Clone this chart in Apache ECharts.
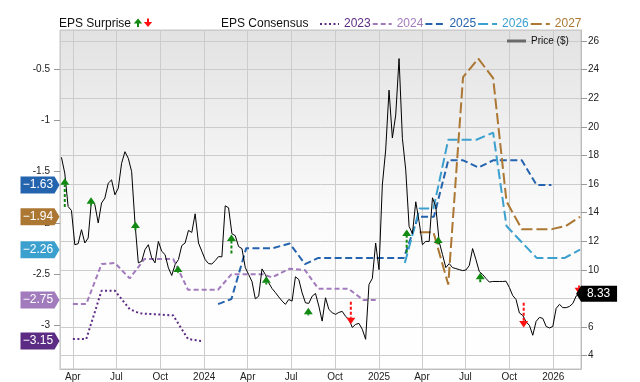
<!DOCTYPE html>
<html><head><meta charset="utf-8">
<script src="https://cdn.jsdelivr.net/npm/echarts@6/dist/echarts.min.js"></script>
<style>html,body{margin:0;padding:0;background:#fff}#c{width:640px;height:382px}</style>
</head><body><div id="c"></div>
<script>
// ---- data ----
const xMin = '2023-03-05';
const xMax = '2026-02-28';
const epsMin = -3.422, epsMax = -0.121;
const priceMin = 3.073, priceMax = 26.767;

const priceStart = '2023-03-08';
const priceStepDays = 7;
const priceValues = [17.87,16.76,14.43,14.15,11.76,11.83,12.81,11.88,12.23,14.9,
14.55,13.28,14.67,15.02,16.06,16.29,15.25,15.71,17.45,18.26,
17.8,16.87,13.28,10.49,10.6,11.42,11.76,10.84,10.49,11.99,
11.3,11.07,10.14,9.61,10.37,10.72,11.7,11.88,12.76,12.62,
13.92,11.88,11.3,10.72,10.44,10.41,10.65,10.93,10.91,14.48,
14.34,12.53,12.39,11.63,11.49,10.16,9.68,9.19,7.98,8.16,
10.07,9.68,9.1,8.7,8.42,8.11,7.83,7.59,7.93,7.82,
9.52,9.33,8.4,7.7,7.66,8.16,8.35,7.47,6.42,8.05,
7.24,7.01,6.89,7.03,7.1,6.75,6.54,5.98,6.19,6.26,
5.85,5.15,8.98,9.4,11.88,10.02,15.94,18.38,22.56,19.22,
20.82,24.77,19.19,16.99,13.04,12.53,14.76,13.37,11.76,11.99,
11.99,15.04,14.41,11.97,11.07,10.16,10.44,10.16,10.09,10.02,
9.95,9.99,10.3,11.49,10.72,9.88,9.68,9.4,9.15,9.19,
9.19,9.19,9.19,9.21,8.77,8.21,7.93,6.99,6.82,6.37,
6.12,5.43,6.4,6.68,6.61,6.05,5.94,6.05,7.31,7.59,
7.36,7.36,7.45,7.66,8.18,8.33];

const eps2023 = [['2023-04-01',-3.13],['2023-04-29',-3.13],['2023-05-31',-2.66],['2023-06-28',-2.66],
  ['2023-07-29',-2.84],['2023-08-19',-2.88],['2023-10-28',-2.90],['2023-11-28',-3.13],['2023-12-26',-3.15]];
const eps2024 = [['2023-04-01',-2.79],['2023-04-29',-2.79],['2023-05-31',-2.40],['2023-06-28',-2.39],
  ['2023-07-29',-2.54],['2023-08-29',-2.35],['2023-10-28',-2.35],['2023-11-28',-2.65],['2024-01-30',-2.65],
  ['2024-02-27',-2.50],['2024-05-03',-2.50],['2024-05-22',-2.53],['2024-06-28',-2.445],['2024-07-30',-2.46],
  ['2024-08-27',-2.64],['2024-10-29',-2.64],['2024-11-29',-2.75],['2024-12-27',-2.75]];
const eps2025 = [['2024-01-30',-2.79],['2024-02-27',-2.74],['2024-03-29',-2.245],['2024-05-24',-2.245],
  ['2024-06-28',-2.20],['2024-07-30',-2.40],['2024-08-27',-2.34],['2025-02-22',-2.34],['2025-03-24',-1.94],
  ['2025-04-26',-1.94],['2025-05-26',-1.39],['2025-06-26',-1.39],['2025-07-28',-1.46],['2025-08-28',-1.39],
  ['2025-10-27',-1.39],['2025-11-27',-1.63],['2025-12-28',-1.63]];
const eps2026 = [['2025-02-24',-2.39],['2025-03-27',-1.86],['2025-04-25',-1.86],['2025-05-26',-1.19],
  ['2025-07-24',-1.19],['2025-08-28',-1.12],['2025-09-25',-2.03],['2025-11-27',-2.34],['2026-01-25',-2.34],
  ['2026-02-26',-2.26]];
const eps2027 = [['2025-03-27',-2.09],['2025-04-25',-2.09],['2025-05-26',-2.60],['2025-06-26',-0.58],
  ['2025-07-28',-0.40],['2025-08-28',-0.59],['2025-09-25',-1.79],['2025-10-27',-2.06],['2025-12-29',-2.06],
  ['2026-01-27',-2.03],['2026-02-26',-1.94]];

// [date, arrow tip price, arrow tail price]  (tip above tail = beat, below = miss)
const surprises = [['2023-03-15',16.4,14.4],['2023-05-09',15.07,14.49],['2023-08-10',13.39,12.77],
  ['2023-11-07',10.31,9.8],['2024-02-27',12.47,11.14],['2024-05-10',9.56,8.98],['2024-08-06',7.36,6.82],
  ['2024-11-03',6.2,7.78],['2025-02-28',12.82,11.19],['2025-05-05',12.34,11.78],['2025-08-01',9.8,9.14],
  ['2025-10-31',5.97,7.71],['2026-02-24',8.29,8.91]];

const yearNames = ['2023','2024','2025','2026','2027'];
const monthNames = ['Jan','Feb','Mar','Apr','May','Jun','Jul','Aug','Sep','Oct','Nov','Dec'];

// ---- helpers ----
function ts(s){ const [y,m,d]=s.split('-').map(Number); return new Date(y,m-1,d).getTime(); }
const FONT = 'Liberation Sans, Arial, sans-serif';
const [py,pm,pd] = priceStart.split('-').map(Number);
const priceData = priceValues.map((v,i)=>[new Date(py,pm-1,pd+priceStepDays*i).getTime(), v]);
const lastPrice = priceData[priceData.length-1];

const epsSets = [eps2023, eps2024, eps2025, eps2026, eps2027];
const colors = ['#5c2b84','#a27bbd','#2463ad','#3ca0cf','#ab7733'];
const dashes = [[2,2.5],[5,3],[7,3.5],[10,4],[11,4]];

function tagFmt(v){ return v.toFixed(2).replace('-', '\u2212'); }

const epsSeries = epsSets.map((set,i)=>({
  name: yearNames[i], type:'line', yAxisIndex:0, symbol:'none', z:2,
  data: set.map(p=>[ts(p[0]), p[1]]),
  color: colors[i],
  lineStyle:{color:colors[i], width:2, type:dashes[i]},
  animation:false,
  markPoint:{
    symbol:'path://M0,0L34,0L39,8.5L34,17L0,17Z', symbolSize:[39,17], symbolOffset:[-20,0],
    symbolKeepAspect:false, silent:true, animation:false,
    itemStyle:{color:colors[i]},
    label:{show:true, position:'inside', offset:[-2,0], color:'#fff', fontSize:12, fontFamily:FONT,
      formatter:p=>tagFmt(p.value)},
    data:[{coord:[ts(xMin), set[set.length-1][1]], value:set[set.length-1][1]}]
  }
}));

function renderArrow(params, api){
  const x = api.value(0), tip = api.value(1), tail = api.value(2);
  const pT = api.coord([x, tip]), pB = api.coord([x, tail]);
  const up = tip > tail;
  const dir = up ? 1 : -1;
  const color = up ? '#128a12' : '#ff1010';
  const headH = 6.5, headW = 4.5;
  const baseY = pT[1] + dir*headH;
  return {type:'group', children:[
    {type:'line', shape:{x1:pT[0], y1:pB[1], x2:pT[0], y2:baseY}, style:{stroke:color, lineWidth:2, lineDash:[3,2]}},
    {type:'polygon', shape:{points:[[pT[0],pT[1]],[pT[0]-headW,baseY],[pT[0]+headW,baseY]]}, style:{fill:color}}
  ]};
}

const chart = echarts.init(document.getElementById('c'), null, {renderer:'canvas'});
chart.setOption({
  animation:false,
  textStyle:{fontFamily:FONT},
  title:[
    {text:'EPS Surprise', left:59, top:18, padding:0, textStyle:{fontSize:12, fontWeight:'normal', color:'#111', fontFamily:FONT}},
    {text:'EPS Consensus', left:221, top:18, padding:0, textStyle:{fontSize:12, fontWeight:'normal', color:'#111', fontFamily:FONT}}
  ],
  graphic:[
    {type:'polygon', shape:{points:[[138,18.5],[133.8,23.5],[142.2,23.5]]}, style:{fill:'#128a12'}},
    {type:'rect', shape:{x:137,y:23,width:2,height:4}, style:{fill:'#128a12'}},
    {type:'polygon', shape:{points:[[148,27],[143.8,22],[152.2,22]]}, style:{fill:'#ff1010'}},
    {type:'rect', shape:{x:147,y:18.5,width:2,height:4}, style:{fill:'#ff1010'}}
  ],
  legend:[
    {left:319, top:18, padding:0, itemWidth:19, itemHeight:12, itemGap:1,
      itemStyle:{color:'rgba(0,0,0,0)', borderColor:'rgba(0,0,0,0)', borderWidth:0, opacity:0},
      data: yearNames.map((n,i)=>({name:n, textStyle:{color:colors[i]}})),
      textStyle:{fontSize:12, fontFamily:FONT}},
    {left:507, top:36, padding:0, itemWidth:19, itemHeight:3,
      data:[{name:'Price ($)', icon:'rect', itemStyle:{color:'#6a6a6a'}}],
      textStyle:{fontSize:10, color:'#111', fontFamily:FONT}}
  ],
  grid:{left:60, right:59, top:30, bottom:12, show:true, borderColor:'#c4c4c4', borderWidth:1,
    backgroundColor:{type:'linear', x:0, y:0, x2:0, y2:1, colorStops:[
      {offset:0, color:'#e2e2e2'},{offset:0.55, color:'#fbfbfb'},{offset:1, color:'#ffffff'}]}},
  xAxis:{type:'time', min:ts(xMin), max:ts(xMax), splitNumber:12,
    axisLine:{show:true, lineStyle:{color:'#bdbdbd'}}, axisTick:{show:false},
    splitLine:{show:true, lineStyle:{color:'#cccccc', width:1}},
    axisLabel:{fontSize:10, color:'#222', margin:3, showMinLabel:false, showMaxLabel:false, fontFamily:FONT,
      formatter:(v)=>{const d=new Date(v); if(d.getDate()!==1) return ''; const m=d.getMonth(); return m===0? String(d.getFullYear()) : monthNames[m];}}},
  yAxis:[
    {type:'value', position:'left', min:epsMin, max:epsMax, minInterval:0.5, maxInterval:0.5,
      splitLine:{show:false}, axisLine:{show:false},
      axisTick:{show:true, length:6, lineStyle:{color:'#999'}},
      axisLabel:{fontSize:10, color:'#222', margin:10, showMinLabel:false, showMaxLabel:false, fontFamily:FONT}},
    {type:'value', position:'right', min:priceMin, max:priceMax, minInterval:2, maxInterval:2,
      splitLine:{show:true, lineStyle:{color:'#cccccc', width:1}},
      axisLine:{show:true, lineStyle:{color:'#bdbdbd'}},
      axisTick:{show:true, length:6, lineStyle:{color:'#999'}},
      axisLabel:{fontSize:10, color:'#222', margin:7, showMinLabel:false, showMaxLabel:false, fontFamily:FONT}}
  ],
  series:[
    ...epsSeries,
    {name:'Price ($)', type:'line', yAxisIndex:1, symbol:'none', z:3, data:priceData,
      color:'#6a6a6a', lineStyle:{color:'#000', width:1}, animation:false,
      markPoint:{symbol:'path://M5,0L41,0L41,16L5,16L0,8Z', symbolSize:[41,16], symbolOffset:[17,0],
        symbolKeepAspect:false, silent:true, animation:false, itemStyle:{color:'#000'},
        label:{show:true, position:'inside', offset:[2,0], color:'#fff', fontSize:12, fontFamily:FONT,
          formatter:p=>p.value.toFixed(2)},
        data:[{coord:lastPrice, value:lastPrice[1]}]}},
    {name:'EPS Surprise', type:'custom', yAxisIndex:1, z:4, data:surprises.map(s=>[ts(s[0]), s[1], s[2]]),
      encode:{x:0, y:[1,2]}, renderItem:renderArrow, clip:false, animation:false, silent:true}
  ]
});
</script></body></html>
